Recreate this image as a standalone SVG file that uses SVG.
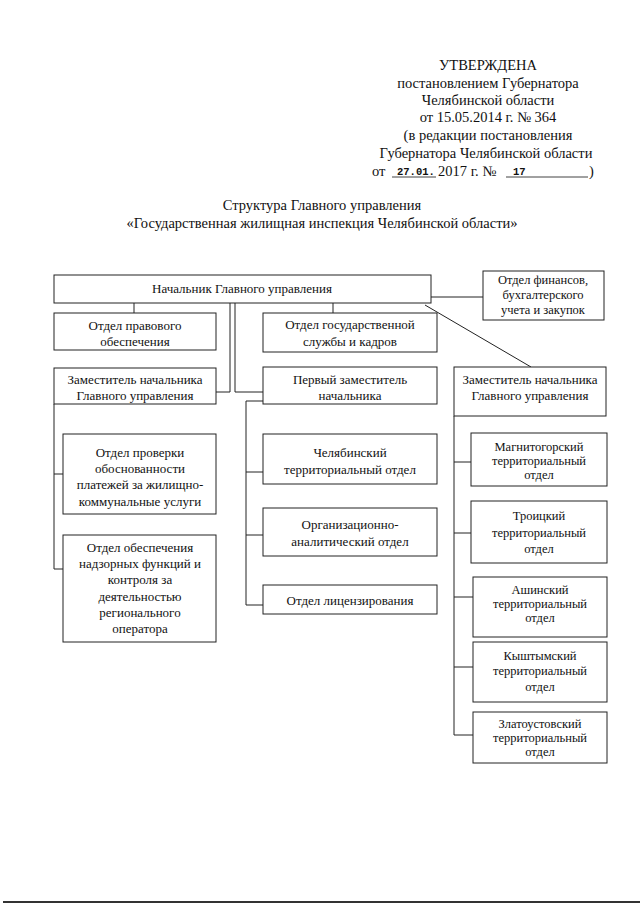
<svg xmlns="http://www.w3.org/2000/svg" width="640" height="905" viewBox="0 0 640 905">
<style>
text{font-family:"Liberation Serif","Times New Roman",serif;font-size:13px;fill:#111;text-anchor:middle}
.h{font-size:14.5px}
.s{font-size:12.5px}
.m{font-family:"Liberation Mono","Courier New",monospace;font-size:10.5px;font-weight:bold}
.st{text-anchor:start}
rect{fill:#fff;stroke:#222;stroke-width:1}
#connectors line,#connectors polyline{stroke:#222;stroke-width:1;fill:none}
</style>
<rect x="0" y="0" width="640" height="905" style="fill:#fff;stroke:none"/>
<g id="header">
<text class="h" x="488" y="70">УТВЕРЖДЕНА</text>
<text class="h" x="488" y="88">постановлением Губернатора</text>
<text class="h" x="488" y="105">Челябинской области</text>
<text class="h" x="488" y="122">от 15.05.2014 г. № 364</text>
<text class="h" x="488" y="140">(в редакции постановления</text>
<text class="h" x="486" y="158">Губернатора Челябинской области</text>
<text class="h st" x="372" y="176">от</text>
<text class="m st" x="397" y="175">27.01.</text>
<text class="h st" x="438" y="176">2017 г. №</text>
<text class="m st" x="513" y="175">17</text>
<text class="h st" x="589" y="176">)</text>
<line x1="392" y1="177" x2="436" y2="177" stroke="#111" stroke-width="0.8"/>
<line x1="506" y1="177" x2="588" y2="177" stroke="#111" stroke-width="0.8"/>
</g>
<g id="title">
<text class="h" x="322" y="210">Структура Главного управления</text>
<text class="h" x="322" y="228">«Государственная жилищная инспекция Челябинской области»</text>
</g>
<g id="connectors">
<line x1="134" y1="303" x2="134" y2="313"/>
<line x1="333" y1="303" x2="333" y2="313"/>
<line x1="431" y1="297" x2="483" y2="297"/>
<line x1="425" y1="305" x2="531" y2="367"/>
<polyline points="230,303 230,392 216,392"/>
<polyline points="235,303 235,392 263,392"/>
<polyline points="263,401 246,401 246,605 263,605"/>
<line x1="246" y1="472" x2="263" y2="472"/>
<line x1="246" y1="535" x2="263" y2="535"/>
<polyline points="54,404 54,569 63,569"/>
<line x1="54" y1="474" x2="63" y2="474"/>
<polyline points="454,416 454,735 473,735"/>
<line x1="454" y1="462" x2="471" y2="462"/>
<line x1="454" y1="533" x2="471" y2="533"/>
<line x1="454" y1="597" x2="473" y2="597"/>
<line x1="454" y1="667" x2="473" y2="667"/>
</g>
<g id="n1"><rect x="54" y="275" width="377" height="28"/><text x="242" y="293">Начальник Главного управления</text></g>
<g id="n2"><rect x="483" y="271" width="121" height="49"/><text class="s" x="543" y="284">Отдел финансов,</text><text class="s" x="543" y="299">бухгалтерского</text><text class="s" x="543" y="314">учета и закупок</text></g>
<g id="n3"><rect x="54" y="313" width="162" height="37"/><text x="135" y="330">Отдел правового</text><text x="135" y="346">обеспечения</text></g>
<g id="n4"><rect x="263" y="313" width="174" height="39"/><text x="350" y="329">Отдел государственной</text><text x="350" y="346">службы и кадров</text></g>
<g id="n5"><rect x="54" y="368" width="162" height="36"/><text x="135" y="384">Заместитель начальника</text><text x="135" y="400">Главного управления</text></g>
<g id="n6"><rect x="263" y="367" width="174" height="37"/><text x="350" y="384">Первый заместитель</text><text x="350" y="400">начальника</text></g>
<g id="n7"><rect x="454" y="367" width="152" height="49"/><text x="530" y="384">Заместитель начальника</text><text x="530" y="400">Главного управления</text></g>
<g id="n8"><rect x="63" y="434" width="153" height="80"/><text x="140" y="457">Отдел проверки</text><text x="140" y="473">обоснованности</text><text x="140" y="489">платежей за жилищно-</text><text x="140" y="506">коммунальные услуги</text></g>
<g id="n9"><rect x="63" y="535" width="153" height="107"/><text x="140" y="552">Отдел обеспечения</text><text x="140" y="568">надзорных функций и</text><text x="140" y="584">контроля за</text><text x="140" y="601">деятельностью</text><text x="140" y="617">регионального</text><text x="140" y="633">оператора</text></g>
<g id="n10"><rect x="263" y="434" width="174" height="50"/><text x="350" y="457">Челябинский</text><text x="350" y="474">территориальный отдел</text></g>
<g id="n11"><rect x="263" y="508" width="174" height="48"/><text x="350" y="529">Организационно-</text><text x="350" y="546">аналитический отдел</text></g>
<g id="n12"><rect x="263" y="585" width="174" height="29"/><text x="350" y="605">Отдел лицензирования</text></g>
<g id="n13"><rect x="471" y="433" width="136" height="53"/><text class="s" x="539" y="451">Магнитогорский</text><text class="s" x="539" y="465">территориальный</text><text class="s" x="539" y="479">отдел</text></g>
<g id="n14"><rect x="471" y="501" width="136" height="62"/><text class="s" x="539" y="520">Троицкий</text><text class="s" x="539" y="537">территориальный</text><text class="s" x="539" y="553">отдел</text></g>
<g id="n15"><rect x="473" y="577" width="134" height="60"/><text class="s" x="540" y="594">Ашинский</text><text class="s" x="540" y="608">территориальный</text><text class="s" x="540" y="622">отдел</text></g>
<g id="n16"><rect x="473" y="642" width="134" height="60"/><text class="s" x="540" y="660">Кыштымский</text><text class="s" x="540" y="675">территориальный</text><text class="s" x="540" y="691">отдел</text></g>
<g id="n17"><rect x="473" y="712" width="134" height="51"/><text class="s" x="540" y="728">Златоустовский</text><text class="s" x="540" y="742">территориальный</text><text class="s" x="540" y="756">отдел</text></g>
<line x1="3" y1="902" x2="640" y2="902" stroke="#333" stroke-width="2"/>
</svg>
